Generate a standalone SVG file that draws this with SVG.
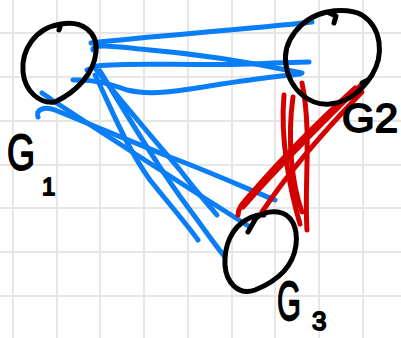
<svg xmlns="http://www.w3.org/2000/svg" width="401" height="338" viewBox="0 0 401 338">
<style>
.grid line{stroke:#e6e6e6;stroke-width:2}
.node{fill:none;stroke:#000;stroke-width:5;stroke-linecap:round;stroke-linejoin:round}
.blue{fill:none;stroke:#0a7ef6;stroke-width:5;stroke-linecap:round;stroke-linejoin:round}
.red{fill:none;stroke:#d40000;stroke-width:5;stroke-linecap:round;stroke-linejoin:round}
.lbl{font-family:"Liberation Sans",Arial,sans-serif;fill:#000;stroke:#000;stroke-width:1.8;stroke-linejoin:round}
</style>
<rect width="401" height="338" fill="#fff"/>
<g class="grid">
<line x1="13" y1="0" x2="13" y2="338"/><line x1="57" y1="0" x2="57" y2="338"/><line x1="100" y1="0" x2="100" y2="338"/><line x1="144" y1="0" x2="144" y2="338"/><line x1="188" y1="0" x2="188" y2="338"/><line x1="232" y1="0" x2="232" y2="338"/><line x1="275" y1="0" x2="275" y2="338"/><line x1="319" y1="0" x2="319" y2="338"/><line x1="363" y1="0" x2="363" y2="338"/>
<line x1="0" y1="33" x2="401" y2="33"/><line x1="0" y1="77" x2="401" y2="77"/><line x1="0" y1="121" x2="401" y2="121"/><line x1="0" y1="165" x2="401" y2="165"/><line x1="0" y1="208" x2="401" y2="208"/><line x1="0" y1="252" x2="401" y2="252"/><line x1="0" y1="296" x2="401" y2="296"/>
</g>
<g id="connectors">
<g id="g1-g2">
<path class="blue" d="M91,43 C150,36 240,30 312,22"/>
<path class="blue" d="M93,50 C92,44 110,46 140,49 C200,54 250,62 302,73"/>
<path class="blue" d="M87,70 L97,66 C130,62 190,66 250,64 C280,63 300,62 309,62"/>
<path class="blue" d="M73,80 C95,79 110,84 127,90 C160,98 200,86 250,80 C270,77 290,75 300,74"/>
</g>
<g id="g1-g3">
<path class="blue" d="M42,93 C45,95 48,97 52,100 C110,138 190,189 250,227"/>
<path class="blue" d="M38,117 C35,110 44,106 55,110 C90,124 130,141 170,157 C210,172 250,190 275,200"/>
<path class="blue" d="M95,75 C110,105 125,145 150,180 C170,205 185,222 198,240"/>
<path class="blue" d="M95,68 C120,100 150,135 180,170 C195,190 207,203 217,215"/>
<path class="blue" d="M100,71 C130,120 160,170 190,210 C205,230 215,245 225,257"/>
</g>
<g id="g2-g3">
<path class="red" d="M284,95 C280,140 290,190 300,224"/>
<path class="red" d="M293,97 C287,140 292,185 302,212"/>
<path class="red" d="M302,83 C312,130 304,185 307,230"/>
<path class="red" d="M355,88 C320,120 280,160 250,195 C243,203 238,208 238,215"/>
<path class="red" d="M360,86 C320,125 280,165 243,207"/>
<path class="red" d="M362,92 C330,125 290,170 262,212"/>
</g>
</g>
<g id="G1">
<path class="node" d="M59,30 L61,24 C82,20 98,32 96,52 C94,74 76,92 55,102 C40,104 25,92 23,72 C21,50 35,28 61,24"/>
<text class="lbl" transform="translate(7,170) scale(0.72,1)" font-size="50">G</text>
<text class="lbl" x="42" y="195" font-size="24">1</text>
</g>
<g id="G2">
<path class="node" d="M334,23 L336,16 L327,12 C300,18 282,42 286,65 C290,92 312,106 330,104 C350,102 362,90 372,75 C384,55 382,28 362,15 C350,9 338,10 327,12 M362,83 L368,80"/>
<text class="lbl" x="342" y="132" font-size="40" textLength="56" lengthAdjust="spacingAndGlyphs">G2</text>
</g>
<g id="G3">
<path class="node" d="M248,232 L256,218 C262,213 270,211 278,212 C292,214 298,228 296,245 C293,268 275,282 255,290 C238,296 226,282 225,265 C224,245 232,228 246,220 C252,216 260,214 264,215"/>
<text class="lbl" transform="translate(277,320) scale(0.55,1)" font-size="56">G</text>
<text class="lbl" x="312" y="330" font-size="26">3</text>
</g>
</svg>
